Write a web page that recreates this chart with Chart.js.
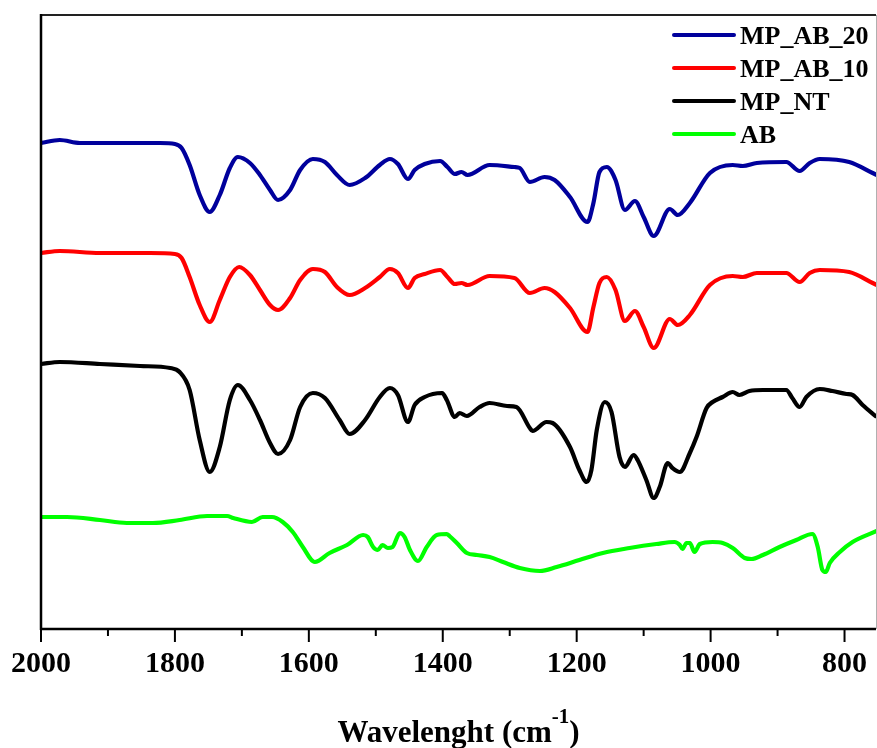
<!doctype html>
<html>
<head>
    <meta charset="utf-8">
    <title>FTIR spectra</title>
    <script src="https://cdn.jsdelivr.net/npm/chart.js@4.4.1/dist/chart.umd.min.js"></script>
    <style>
        html, body { margin: 0; padding: 0; background: #fff; }
        #canvas { display: block; }
    </style>
</head>
<body>
    <canvas id="canvas" width="877" height="748"></canvas>
    <script>
        // wavenumbers (cm-1) and transmittance (arbitrary units, stacked)
        var wnAB20 = [2000, 1972, 1942, 1882, 1822, 1800, 1790, 1778, 1763, 1748, 1733, 1718, 1706, 1688, 1673, 1658, 1646, 1628, 1613, 1594, 1576, 1558, 1539, 1516, 1494, 1479, 1467, 1452, 1442, 1427, 1404, 1393, 1382, 1372, 1363, 1330, 1293, 1285, 1270, 1248, 1233, 1210, 1184, 1175, 1166, 1155, 1142, 1128, 1113, 1100, 1085, 1061, 1049, 1031, 1001, 967, 952, 931, 887, 867, 852, 837, 793, 758, 752];
        var tAB20 = [486, 489, 486, 486, 486, 485, 481, 464, 434, 417, 434, 461, 472, 466, 454, 439, 429, 439, 459, 470, 467, 454, 444, 451, 464, 470, 465, 450, 459, 465, 468, 462, 455, 457, 454, 464, 462, 461, 447, 452, 449, 432, 407, 426, 457, 462, 449, 419, 428, 412, 393, 420, 414, 426, 456, 464, 463, 466, 467, 458, 466, 470, 467, 456, 454];

        var wnAB10 = [2000, 1972, 1912, 1837, 1800, 1790, 1778, 1763, 1748, 1733, 1718, 1704, 1688, 1673, 1658, 1646, 1628, 1613, 1594, 1576, 1558, 1539, 1516, 1494, 1479, 1467, 1452, 1442, 1427, 1404, 1393, 1382, 1372, 1363, 1330, 1293, 1270, 1248, 1233, 1210, 1184, 1175, 1166, 1155, 1142, 1128, 1113, 1100, 1085, 1061, 1049, 1031, 1001, 967, 952, 931, 887, 867, 852, 837, 793, 758, 752];
        var tAB10 = [376, 378, 376, 376, 375, 371, 352, 324, 307, 329, 352, 362, 354, 339, 324, 319, 331, 349, 360, 357, 342, 334, 341, 352, 360, 356, 341, 351, 355, 359, 352, 345, 346, 344, 353, 351, 336, 341, 337, 321, 297, 322, 346, 352, 339, 308, 318, 302, 281, 310, 304, 314, 344, 353, 352, 356, 356, 347, 356, 359, 357, 346, 344];

        var wnNT = [2000, 1972, 1912, 1852, 1807, 1793, 1778, 1763, 1748, 1733, 1718, 1706, 1688, 1673, 1658, 1646, 1628, 1613, 1594, 1576, 1554, 1539, 1516, 1494, 1479, 1467, 1452, 1442, 1427, 1401, 1394, 1382, 1375, 1364, 1345, 1330, 1304, 1290, 1270, 1266, 1245, 1236, 1210, 1196, 1185, 1178, 1170, 1158, 1148, 1136, 1128, 1115, 1109, 1096, 1085, 1076, 1064, 1057, 1046, 1031, 1021, 1006, 997, 982, 967, 957, 942, 922, 887, 878, 867, 857, 837, 818, 797, 788, 773, 752];
        var tNT = [265, 267, 265, 263, 261, 257, 239, 189, 157, 182, 229, 244, 229, 209, 186, 175, 189, 222, 236, 231, 209, 195, 209, 232, 241, 234, 207, 224, 232, 236, 229, 212, 216, 213, 222, 226, 223, 222, 201, 198, 207, 206, 182, 159, 147, 159, 199, 227, 217, 172, 162, 174, 169, 149, 131, 142, 166, 161, 157, 176, 192, 221, 227, 232, 237, 234, 238, 239, 239, 231, 222, 232, 240, 238, 235, 234, 224, 212];

        var wnAB = [2000, 1961, 1912, 1872, 1833, 1793, 1752, 1722, 1713, 1685, 1669, 1655, 1639, 1624, 1609, 1591, 1569, 1543, 1519, 1512, 1504, 1497, 1490, 1482, 1475, 1464, 1457, 1449, 1437, 1424, 1409, 1394, 1390, 1379, 1364, 1349, 1330, 1310, 1285, 1255, 1230, 1196, 1161, 1121, 1081, 1054, 1046, 1042, 1036, 1031, 1024, 1016, 997, 982, 967, 949, 939, 922, 897, 872, 848, 840, 833, 828, 822, 807, 788, 752];
        var tAB = [112, 112, 109, 106, 106, 109, 113, 113, 111, 107, 112, 112, 107, 97, 82, 67, 76, 84, 94, 92, 82, 79, 84, 81, 82, 96, 92, 79, 68, 82, 94, 95, 93, 86, 76, 74, 72, 67, 61, 58, 62, 69, 76, 81, 85, 87, 84, 80, 86, 86, 77, 85, 87, 86, 81, 71, 70, 74, 82, 89, 95, 82, 59, 57, 66, 77, 87, 98];

        var seriesNames = ['MP_AB_20', 'MP_AB_10', 'MP_NT', 'AB'];
        var seriesColors = ['#00009c', '#ff0000', '#000000', '#00ff00'];
        var xLabelStep = 200;
        var xMinorStep = 100;

        function toPoints(wn, t) {
            var pts = [];
            for (var i = 0; i < wn.length; i++) {
                pts.push({ x: wn[i], y: t[i] });
            }
            return pts;
        }

        function line(c, x1, y1, x2, y2) {
            c.beginPath();
            c.moveTo(x1, y1);
            c.lineTo(x2, y2);
            c.stroke();
        }

        var allData = [toPoints(wnAB20, tAB20), toPoints(wnAB10, tAB10), toPoints(wnNT, tNT), toPoints(wnAB, tAB)];
        var datasets = [];
        for (var i = 0; i < allData.length; i++) {
            datasets.push({
                label: seriesNames[i],
                data: allData[i],
                borderColor: seriesColors[i],
                backgroundColor: seriesColors[i],
                borderWidth: 4.2,
                pointRadius: 0,
                cubicInterpolationMode: 'monotone',
                fill: false
            });
        }

        // frame, tick marks, axis title with superscript, legend in the corner
        var extras = {
            id: 'extras',
            afterDraw: function (chart) {
                var c = chart.ctx, a = chart.chartArea, xs = chart.scales.x;
                c.save();
                c.strokeStyle = '#b0b0b0';
                c.lineWidth = 1;
                line(c, a.right + 0.5, a.top, a.right + 0.5, a.bottom);
                c.strokeStyle = '#222';
                c.lineWidth = 2;
                line(c, a.left, a.top, a.right, a.top);
                c.strokeStyle = '#000';
                c.lineWidth = 2.5;
                line(c, a.left, a.top - 1, a.left, a.bottom + 1);
                line(c, a.left - 1, a.bottom, a.right, a.bottom);

                c.lineWidth = 2;
                xs.ticks.forEach(function (t) {
                    var px = xs.getPixelForValue(t.value);
                    var len = t.value % xLabelStep === 0 ? 13 : 7;
                    line(c, px, a.bottom, px, a.bottom + len);
                });

                // axis title
                var main = 'Wavelenght (cm', sup = '-1', close = ')';
                c.fillStyle = '#000';
                c.textBaseline = 'alphabetic';
                c.font = 'bold 31px "Liberation Serif"';
                var w1 = c.measureText(main).width, w3 = c.measureText(close).width;
                c.font = 'bold 21px "Liberation Serif"';
                var w2 = c.measureText(sup).width;
                var x0 = (a.left + a.right) / 2 - (w1 + w2 + w3) / 2;
                c.font = 'bold 31px "Liberation Serif"';
                c.fillText(main, x0, 742);
                c.fillText(close, x0 + w1 + w2, 742);
                c.font = 'bold 21px "Liberation Serif"';
                c.fillText(sup, x0 + w1, 723);

                // legend
                c.font = 'bold 26px "Liberation Serif"';
                c.lineCap = 'round';
                c.lineWidth = 4;
                chart.data.datasets.forEach(function (ds, k) {
                    var y = 35 + k * 33;
                    c.strokeStyle = ds.borderColor;
                    line(c, 674, y, 734, y);
                    c.fillStyle = '#000';
                    c.fillText(ds.label, 740, y + 9);
                });
                c.restore();
            }
        };

        var ctx = document.getElementById('canvas').getContext('2d');
        window.onload = function () {
            window.myChart = new Chart(ctx, {
                type: 'line',
                data: { datasets: datasets },
                plugins: [extras],
                options: {
                    responsive: false,
                    animation: false,
                    layout: { padding: { left: 41, top: 15, right: 1, bottom: 0 } },
                    plugins: {
                        legend: { display: false },
                        tooltip: { enabled: false }
                    },
                    scales: {
                        x: {
                            type: 'linear',
                            reverse: true,
                            min: 753,
                            max: 2000,
                            grid: { display: false, drawTicks: false },
                            border: { display: false },
                            afterFit: function (scale) {
                                scale.height = 119;
                                scale.paddingLeft = 0;
                                scale.paddingRight = 0;
                            },
                            ticks: {
                                stepSize: xMinorStep,
                                includeBounds: false,
                                autoSkip: false,
                                maxRotation: 0,
                                padding: 17,
                                color: '#000',
                                font: { family: '"Liberation Serif"', size: 30, weight: 'bold' },
                                callback: function (v) { return v % xLabelStep === 0 ? String(v) : ''; }
                            }
                        },
                        y: {
                            display: false,
                            min: 0,
                            max: 614
                        }
                    }
                }
            });
        };
    </script>
</body>
</html>
